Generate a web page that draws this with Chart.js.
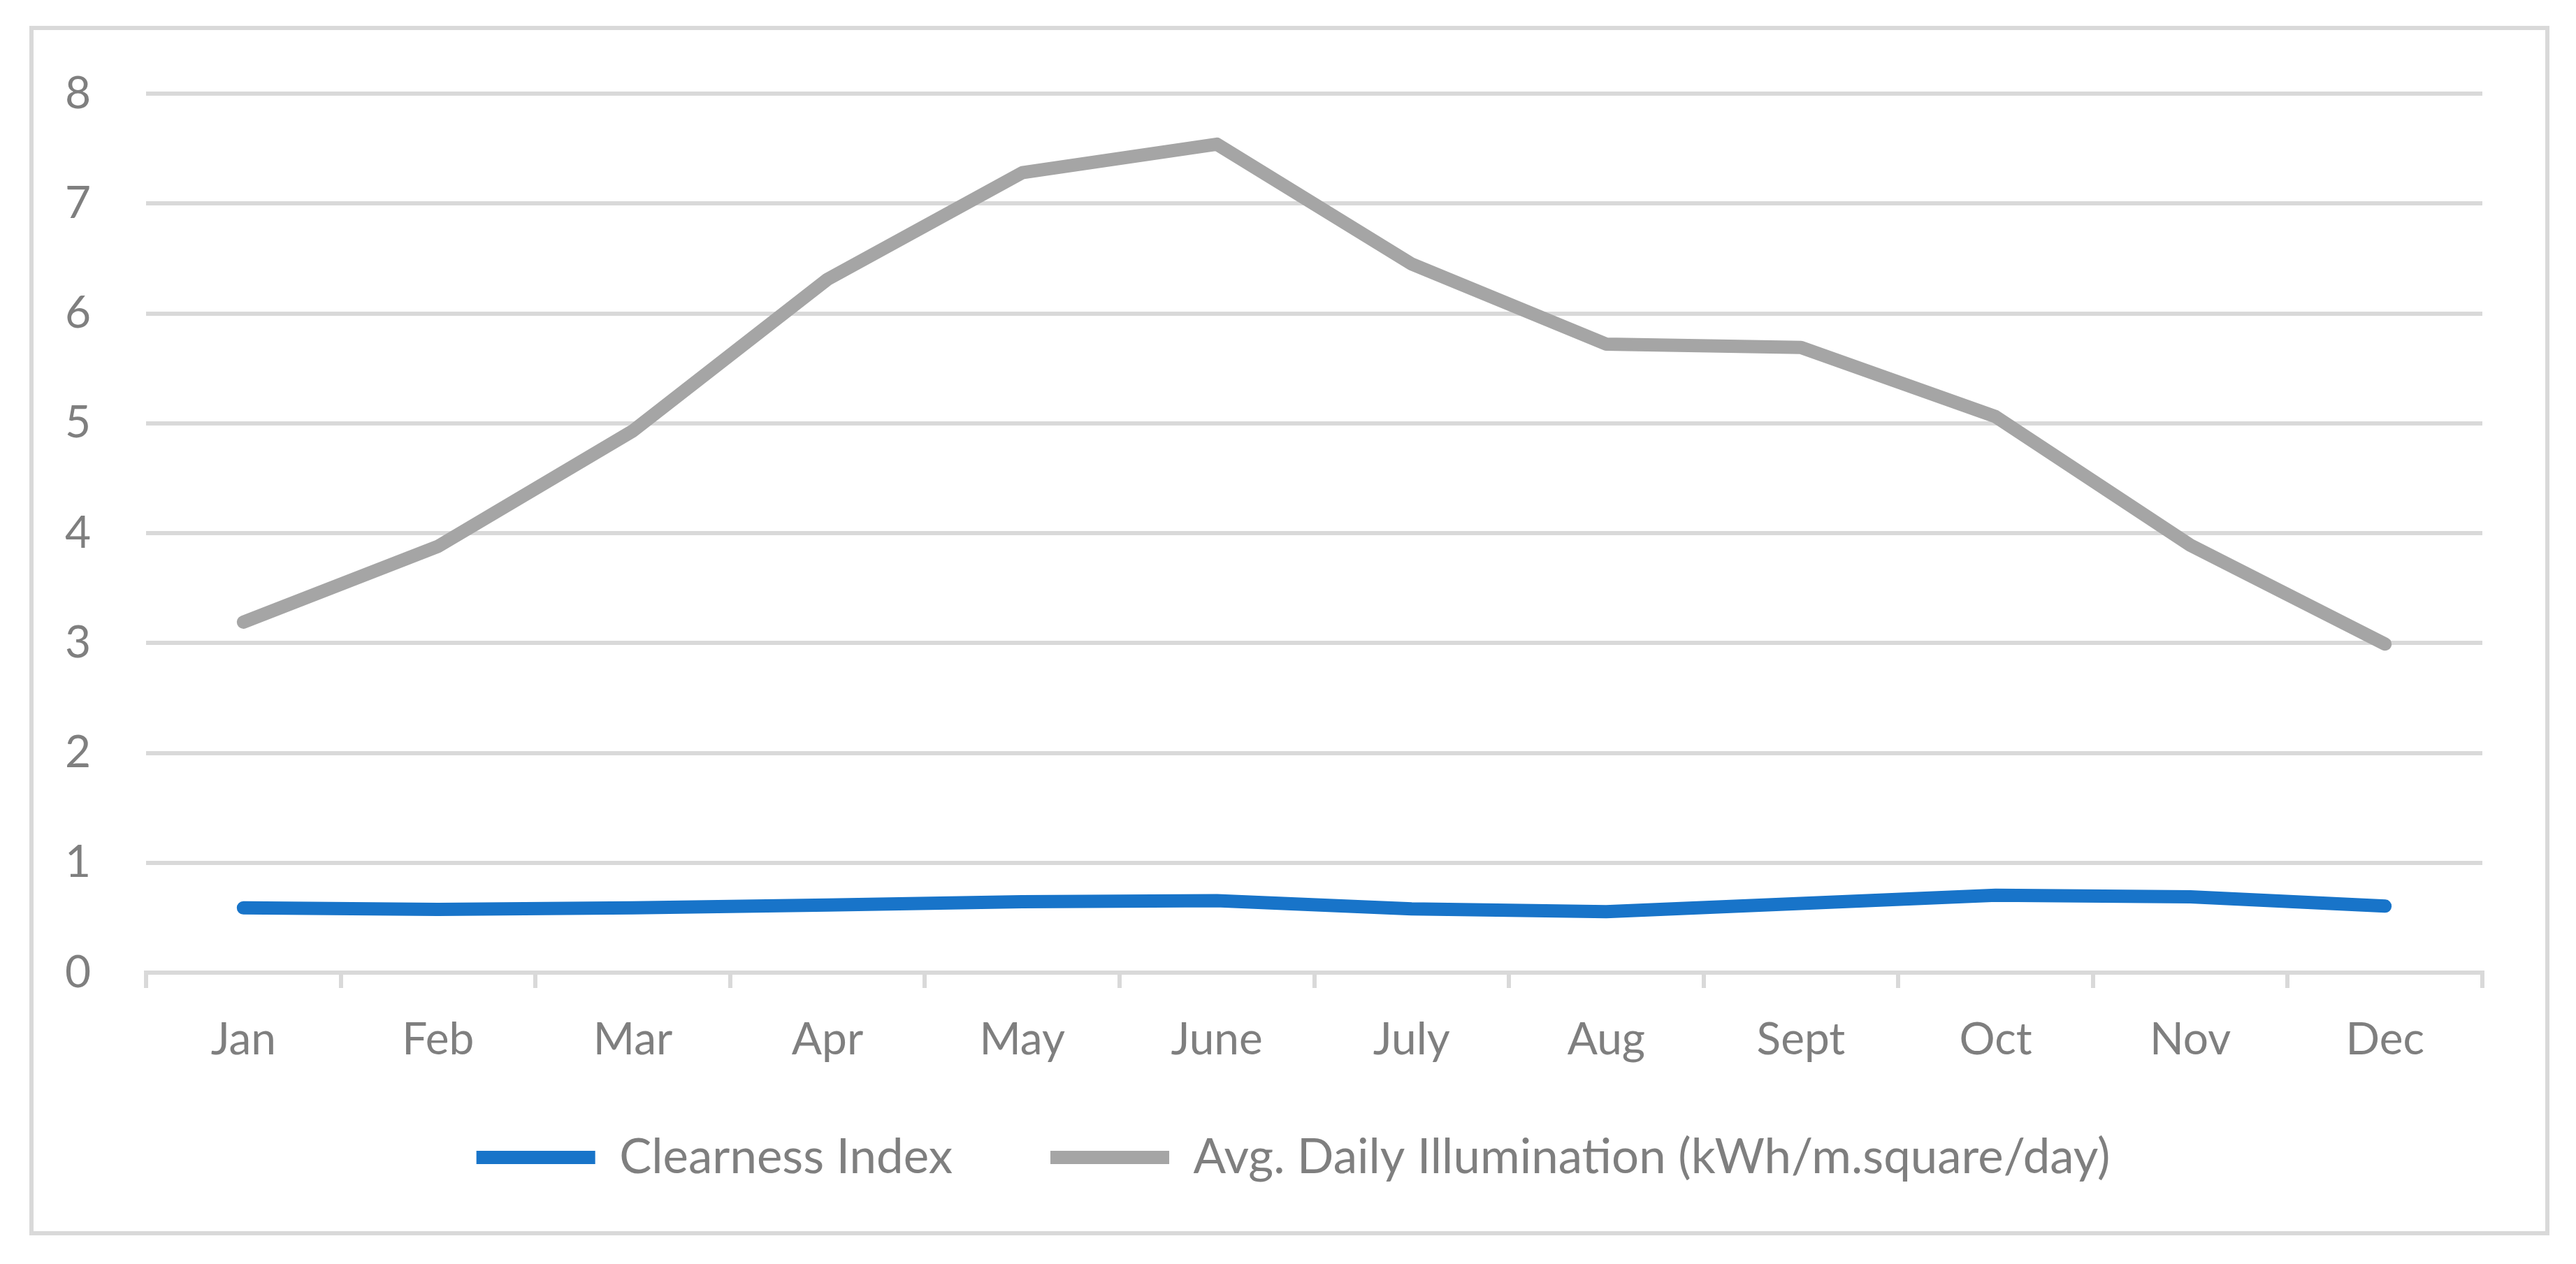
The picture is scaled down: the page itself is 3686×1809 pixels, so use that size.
<!DOCTYPE html>
<html>
<head>
<meta charset="utf-8">
<script src="https://cdn.jsdelivr.net/npm/chart.js@4.4.0/dist/chart.umd.min.js"></script>
<style>
  html, body { margin: 0; padding: 0; background: #fff; }
  #wrap { position: relative; width: 3686px; height: 1809px; }
  #frame {
    position: absolute; left: 42px; top: 37px;
    width: 3594px; height: 1719px;
    border: 6px solid #d9d9d9;
    pointer-events: none;
  }
</style>
</head>
<body>
<div id="wrap">
  <canvas id="chart"></canvas>
  <div id="frame"></div>
</div>
<script>
// months on the x axis
const months = ['Jan', 'Feb', 'Mar', 'Apr', 'May', 'June', 'July', 'Aug', 'Sept', 'Oct', 'Nov', 'Dec'];

// values
const clearnessIndex = [0.59, 0.575, 0.59, 0.615, 0.645, 0.655, 0.58, 0.555, 0.63, 0.705, 0.69, 0.605];
const dailyIllumination = [3.19, 3.88, 4.93, 6.31, 7.28, 7.54, 6.45, 5.72, 5.69, 5.06, 3.89, 2.99];

const seriesNames = ['Clearness Index', 'Avg. Daily Illumination (kWh/m.square/day)'];

const textColor = '#7f7f7f';
const gridColor = '#d9d9d9';
const fontFamily = 'Lato, "Open Sans", sans-serif';

// the legend keeps wide gaps between items, so move it up (and a little left) afterwards
const nudgeLegend = {
    id: 'nudgeLegend',
    afterLayout(chart) {
        chart.legend.top -= 50;
        chart.legend.bottom -= 50;
        chart.legend.left -= 30;
        chart.legend.right -= 30;
    }
};

const ctx = document.getElementById('chart').getContext('2d');
const chart = new Chart(ctx, {
    type: 'line',
    data: {
        labels: months,
        datasets: [{
            label: seriesNames[0],
            data: clearnessIndex,
            borderColor: '#1874c9',
            backgroundColor: '#1874c9',
            borderWidth: 19,
            borderCapStyle: 'round',
            borderJoinStyle: 'round',
            pointRadius: 0,
            tension: 0,
            fill: false,
        }, {
            label: seriesNames[1],
            data: dailyIllumination,
            borderColor: '#a5a5a5',
            backgroundColor: '#a5a5a5',
            borderWidth: 19,
            borderCapStyle: 'round',
            borderJoinStyle: 'round',
            pointRadius: 0,
            tension: 0,
            fill: false,
        }]
    },
    options: {
        responsive: true,
        maintainAspectRatio: false,
        animation: false,
        layout: {
            padding: { top: 134, right: 134, left: 0, bottom: 58 }
        },
        plugins: {
            tooltip: { enabled: false },
            legend: {
                position: 'bottom',
                fullSize: false,
                labels: {
                    usePointStyle: true,
                    pointStyle: 'line',
                    pointStyleWidth: 170,
                    color: textColor,
                    padding: 140,
                    font: { family: fontFamily, size: 69 }
                }
            }
        },
        scales: {
            x: {
                offset: true,
                grid: {
                    offset: true,
                    drawOnChartArea: false,
                    color: gridColor,
                    lineWidth: 6,
                    tickLength: 22
                },
                border: { color: gridColor, width: 6 },
                ticks: {
                    color: textColor,
                    padding: 36,
                    maxRotation: 0,
                    font: { family: fontFamily, size: 64 }
                },
                afterFit: (scale) => { scale.height = 140; }
            },
            y: {
                min: 0,
                max: 8,
                ticks: {
                    stepSize: 1,
                    color: textColor,
                    padding: 79,
                    font: { family: fontFamily, size: 64 }
                },
                grid: {
                    color: gridColor,
                    lineWidth: 6,
                    drawTicks: false
                },
                border: { display: false },
                afterFit: (scale) => { scale.width = 209; }
            }
        }
    },
    plugins: [nudgeLegend]
});
</script>
</body>
</html>
